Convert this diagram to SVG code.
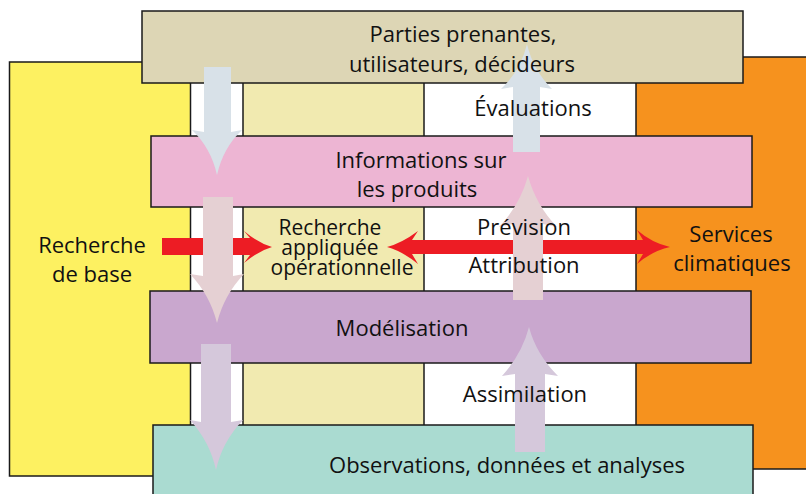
<svg xmlns="http://www.w3.org/2000/svg" width="806" height="494" viewBox="0 0 806 494">
<style>
.box{stroke:#1a1a1a;stroke-width:1.5}
text{font-family:"Open Sans","Liberation Sans",sans-serif;font-size:22px;fill:#111;text-anchor:middle}
.tight{font-size:21px}
.a1{fill:#D8E1E8}
.a2{fill:#E5D0D3}
.a3{fill:#D5C8DB}
.red{fill:#ED1C24}
</style>
<rect width="806" height="494" fill="#fff"/>
<g id="recherche-base">
<rect class="box" x="9.5" y="62" width="181" height="414" fill="#FDF161"/>
</g>
<g id="services-climatiques">
<rect class="box" x="636" y="57" width="180" height="412" fill="#F6921E"/>
</g>
<g id="recherche-appliquee">
<rect class="box" x="243" y="60" width="181" height="410" fill="#F1EAB0"/>
</g>
<g id="parties-prenantes">
<rect class="box" x="142" y="11" width="601" height="72" fill="#DDD6B5"/>
</g>
<g id="informations">
<rect class="box" x="151" y="136" width="601" height="71" fill="#EDB5D3"/>
</g>
<g id="modelisation">
<rect class="box" x="150" y="291" width="601" height="72" fill="#C9A7CE"/>
</g>
<g id="observations">
<rect class="box" x="153" y="425" width="600" height="80" fill="#AADBD1"/>
</g>
<g id="connectors">
<path class="red" d="M162,238 H250 L244,231 Q258,243 272,247 Q258,251 244,263 L250,255 H162 Z"/>
<path class="red" d="M412,240 H643 L637,230 Q652,243 670,247 Q652,251 637,264 L643,254 H412 L418,264 Q402,251 387,247 Q402,243 418,231 Z"/>
<path class="a1" d="M204,67 H231 V132 L242,130 Q223,148 217,175 Q211,148 192,130 L204,132 Z"/>
<path class="a2" d="M203,197 H233 V276 L244,274 Q224,295 217,323 Q210,295 190,274 L203,276 Z"/>
<path class="a3" d="M201,344 H231 V422 L243,420 Q222,442 216,470 Q210,442 190,420 L201,422 Z"/>
<path class="a1" d="M513,152 H540 V87 L552,89 Q533,70 527,44 Q521,70 501,89 L513,87 Z"/>
<path class="a2" d="M513,300 H543 V224 L557,227 Q536,205 528,176 Q520,205 499,227 L513,224 Z"/>
<path class="a3" d="M515,452 H545 V374 L558,376 Q536,354 529,327 Q522,354 502,376 L515,374 Z"/>
</g>
<g id="labels">
<text x="463" y="42">Parties prenantes,</text>
<text x="462" y="72">utilisateurs, décideurs</text>
<text x="533" y="116">Évaluations</text>
<text x="421" y="168">Informations sur</text>
<text x="417" y="197">les produits</text>
<text x="92" y="253">Recherche</text>
<text x="92" y="282">de base</text>
<text class="tight" x="330" y="235">Recherche</text>
<text class="tight" x="330" y="255">appliquée</text>
<text class="tight" x="342" y="275">opérationnelle</text>
<text x="524" y="235">Prévision</text>
<text x="524" y="273">Attribution</text>
<text x="731" y="242">Services</text>
<text x="732" y="271">climatiques</text>
<text x="402" y="336">Modélisation</text>
<text x="525" y="402">Assimilation</text>
<text x="507" y="473">Observations, données et analyses</text>
</g>
</svg>
